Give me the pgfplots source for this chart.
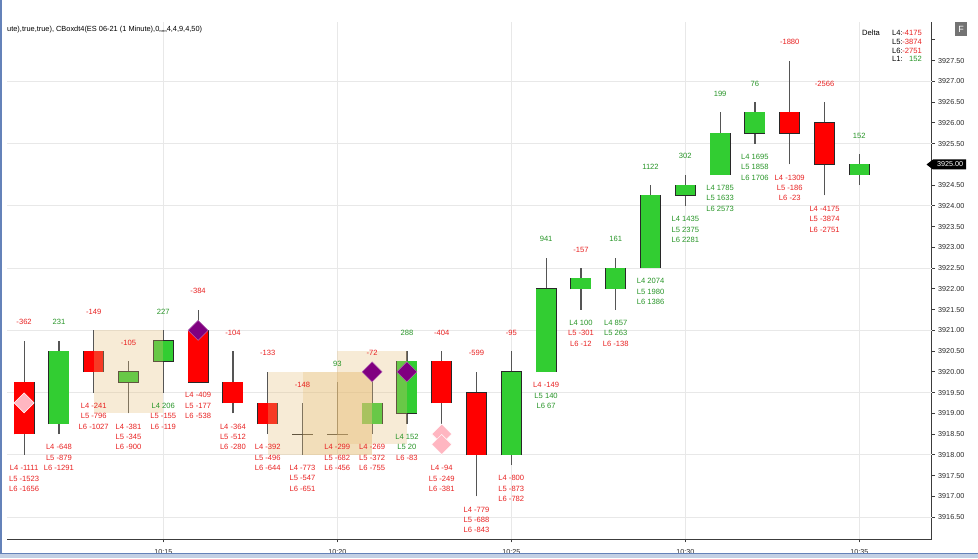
\documentclass[border=0pt]{standalone}
\usepackage{fontspec}
\setmainfont{Liberation Sans}
\usepackage{pgfplots}
\pgfplotsset{compat=1.18}
\usepackage{pgfplotstable}

\definecolor{candleR}{RGB}{255,0,0}
\definecolor{candleG}{RGB}{50,205,50}
\definecolor{outlinec}{RGB}{40,40,40}
\definecolor{wickc}{RGB}{85,85,85}
\definecolor{negred}{RGB}{232,32,32}
\definecolor{posgreen}{RGB}{38,148,38}
\definecolor{gridc}{RGB}{232,232,232}
\definecolor{axisc}{RGB}{60,60,60}
\definecolor{ticktext}{RGB}{40,40,40}
\definecolor{boxc}{RGB}{230,190,120}
\definecolor{pinkd}{RGB}{255,182,193}
\definecolor{purpd}{RGB}{128,0,128}
\definecolor{winblue}{RGB}{100,130,185}
\definecolor{winblue2}{RGB}{195,208,228}

\newcommand\lblfont{\fontsize{7.6}{10.4}\selectfont}
\newcommand\tickfont{\fontsize{7.2}{8}\selectfont}

% time in minutes after 10:00, OHLC, delta
\pgfplotstableread{
x O H L C D
11 3919.75 3920.75 3918.00 3918.50 -362
12 3918.75 3920.75 3918.50 3920.50 231
13 3920.50 3921.00 3919.50 3920.00 -149
14 3919.75 3920.25 3919.00 3920.00 -105
15 3920.25 3921.00 3919.50 3920.75 227
16 3921.00 3921.50 3919.75 3919.75 -384
17 3919.75 3920.50 3919.00 3919.25 -104
18 3919.25 3920.00 3918.50 3918.75 -133
19 3918.50 3919.25 3918.00 3918.50 -148
20 3918.50 3919.75 3918.50 3918.50 93
21 3918.75 3920.00 3918.50 3919.25 -72
22 3919.00 3920.50 3918.75 3920.25 288
23 3920.25 3920.50 3918.75 3919.25 -404
24 3919.50 3920.00 3917.00 3918.00 -599
25 3918.00 3920.50 3917.75 3920.00 -95
26 3920.00 3922.75 3920.00 3922.00 941
27 3922.00 3922.50 3921.50 3922.25 -157
28 3922.00 3922.75 3921.50 3922.50 161
29 3922.50 3924.50 3922.50 3924.25 1122
30 3924.25 3924.75 3924.00 3924.50 302
31 3924.75 3926.25 3924.75 3925.75 199
32 3925.75 3926.50 3925.50 3926.25 76
33 3926.25 3927.50 3925.00 3925.75 -1880
34 3926.00 3926.50 3924.25 3925.00 -2566
35 3924.75 3925.25 3924.50 3925.00 152
}\ohlc

% L4/L5/L6 values under each bar (T = top of the text block)
\pgfplotstableread{
x T L4 L5 L6
11 3918.00 -1111 -1523 -1656
12 3918.50 -648 -879 -1291
13 3919.50 -241 -796 -1027
14 3919.00 -381 -345 -900
15 3919.50 206 -155 -119
16 3919.75 -409 -177 -538
17 3919.00 -364 -512 -280
18 3918.50 -392 -496 -644
19 3918.00 -773 -547 -651
20 3918.50 -299 -682 -456
21 3918.50 -269 -372 -755
22 3918.75 152 20 -83
23 3918.00 -94 -249 -381
24 3917.00 -779 -688 -843
25 3917.75 -800 -873 -782
26 3920.00 -149 140 67
27 3921.50 100 -301 -12
28 3921.50 857 263 -138
29 3922.50 2074 1980 1386
30 3924.00 1435 2375 2281
31 3924.75 1785 1633 2573
32 3925.50 1695 1858 1706
33 3925.00 -1309 -186 -23
34 3924.25 -4175 -3874 -2751
}\ltab

\pgfplotsset{
  txt/.style={only marks, mark=none, point meta=explicit symbolic},
  txtnode/.style={every node near coord/.append style={font=\lblfont, anchor=center, inner sep=0pt, #1}},
  ebar/.style={draw=none, mark=none,
    error bars/.cd, y dir=plus, y explicit, error mark=none,
    error bar style={#1}},
}

\begin{document}
\begin{tikzpicture}
\useasboundingbox (0,0) rectangle (978pt,558pt);
\begin{axis}[
  at={(7pt,19pt)}, anchor=south west,
  scale only axis, width=924.7pt, height=517pt,
  xmin=10.5086, xmax=37.080, ymin=3915.971, ymax=3928.429,
  axis x line*=bottom, axis y line*=right,
  every outer x axis line/.append style={-},
  every outer y axis line/.append style={-},
  axis line style={draw=axisc, line width=0.9pt},
  tick align=outside, major tick length=3.5pt,
  tick style={draw=axisc, line width=0.8pt},
  xtick={15,20,25,30,35},
  xticklabels={10:15,10:20,10:25,10:30,10:35},
  xmajorgrids,
  major grid style={draw=gridc, line width=0.8pt},
  ytick={3916.5,3917,3917.5,3918,3918.5,3919,3919.5,3920,3920.5,3921,3921.5,3922,3922.5,3923,3923.5,3924,3924.5,3925,3925.5,3926,3926.5,3927,3927.5,3928},
  yticklabels={3916.50,3917.00,3917.50,3918.00,3918.50,3919.00,3919.50,3920.00,3920.50,3921.00,3921.50,3922.00,3922.50,3923.00,3923.50,3924.00,3924.50,3925.00,3925.50,3926.00,3926.50,3927.00,3927.50,},
  extra y ticks={3916.5,3918,3919.5,3921,3922.5,3924,3925.5,3927},
  extra y tick labels={},
  extra y tick style={grid=major, major tick length=0pt},
  xticklabel style={font=\tickfont, text=ticktext, yshift=-3pt},
  yticklabel style={font=\tickfont, text=ticktext, xshift=-0.5pt},
]
% wicks
\addplot[ebar={draw=wickc, line width=1.2pt}]
  table[x=x, y=L, y error expr=\thisrow{H}-\thisrow{L}]{\ohlc};
% body outlines
\addplot[ebar={draw=outlinec, line width=21pt}]
  table[x=x, y expr={min(\thisrow{O},\thisrow{C})-0.0096},
        y error expr={abs(\thisrow{C}-\thisrow{O})+0.0193}]{\ohlc};
% red bodies
\addplot[x filter/.expression={\thisrow{C}<\thisrow{O} ? x : nan},
  ebar={draw=candleR, line width=19.4pt}]
  table[x=x, y=C, y error expr=\thisrow{O}-\thisrow{C}]{\ohlc};
% green bodies
\addplot[x filter/.expression={\thisrow{C}>\thisrow{O} ? x : nan},
  ebar={draw=candleG, line width=19.4pt}]
  table[x=x, y=O, y error expr=\thisrow{C}-\thisrow{O}]{\ohlc};
% diamonds
\addplot[only marks, mark=square*, mark size=7.07pt,
  mark options={rotate=45, fill=pinkd, draw=white, line width=0.5pt}]
  coordinates {(11,3919.25) (23,3918.5) (23,3918.25)};
\addplot[only marks, mark=square*, mark size=7.07pt,
  mark options={rotate=45, fill=purpd, draw=purpd!60!white, line width=0.5pt}]
  coordinates {(16,3921) (21,3920) (22,3920)};
% delta above
\addplot[txt, x filter/.expression={\thisrow{D}<0 ? x : nan},
  nodes near coords, txtnode={text=negred, yshift=18.5pt}]
  table[x=x, y=H, meta=D]{\ohlc};
\addplot[txt, x filter/.expression={\thisrow{D}<0 ? nan : x},
  nodes near coords, txtnode={text=posgreen, yshift=18.5pt}]
  table[x=x, y=H, meta=D]{\ohlc};
% L4 L5 L6 below
\addplot[txt, x filter/.expression={\thisrow{L4}<0 ? x : nan},
  nodes near coords={L4 \pgfplotspointmeta}, txtnode={text=negred, yshift=-13.2pt}]
  table[x=x, y=T, meta=L4]{\ltab};
\addplot[txt, x filter/.expression={\thisrow{L4}<0 ? nan : x},
  nodes near coords={L4 \pgfplotspointmeta}, txtnode={text=posgreen, yshift=-13.2pt}]
  table[x=x, y=T, meta=L4]{\ltab};
\addplot[txt, x filter/.expression={\thisrow{L5}<0 ? x : nan},
  nodes near coords={L5 \pgfplotspointmeta}, txtnode={text=negred, yshift=-23.6pt}]
  table[x=x, y=T, meta=L5]{\ltab};
\addplot[txt, x filter/.expression={\thisrow{L5}<0 ? nan : x},
  nodes near coords={L5 \pgfplotspointmeta}, txtnode={text=posgreen, yshift=-23.6pt}]
  table[x=x, y=T, meta=L5]{\ltab};
\addplot[txt, x filter/.expression={\thisrow{L6}<0 ? x : nan},
  nodes near coords={L6 \pgfplotspointmeta}, txtnode={text=negred, yshift=-34pt}]
  table[x=x, y=T, meta=L6]{\ltab};
\addplot[txt, x filter/.expression={\thisrow{L6}<0 ? nan : x},
  nodes near coords={L6 \pgfplotspointmeta}, txtnode={text=posgreen, yshift=-34pt}]
  table[x=x, y=T, meta=L6]{\ltab};
% shaded boxes
\addplot[draw=none, fill=boxc, fill opacity=0.3] coordinates {(13,3919) (15,3919) (15,3921) (13,3921)};
\addplot[draw=none, fill=boxc, fill opacity=0.3] coordinates {(18,3918) (21,3918) (21,3920) (18,3920)};
\addplot[draw=none, fill=boxc, fill opacity=0.3] coordinates {(19,3918) (21,3918) (21,3920) (19,3920)};
\addplot[draw=none, fill=boxc, fill opacity=0.3] coordinates {(20,3918.25) (22,3918.25) (22,3920.5) (20,3920.5)};
\end{axis}
% window decorations
\fill[winblue] (0,5pt) rectangle (2pt,558pt);
\fill[winblue2] (0,0) rectangle (978pt,5pt);
\draw[winblue, line width=0.8pt] (0,5pt) -- (978pt,5pt);
% title
\node[anchor=west, inner sep=0pt, font=\fontsize{7.4}{8}\selectfont] at (7pt,528pt)
  {ute),true,true), CBoxdt4(ES 06-21 (1 Minute),0,,,,,,4,4,9,4,50)};
% delta legend
\begin{scope}[every node/.style={inner sep=0pt, font=\lblfont}]
\node[anchor=west] at (862pt,525pt) {Delta};
\node[anchor=west] at (892pt,525pt) {L4:};
\node[anchor=east, text=negred] at (922pt,525pt) {-4175};
\node[anchor=west] at (892pt,516pt) {L5:};
\node[anchor=east, text=negred] at (922pt,516pt) {-3874};
\node[anchor=west] at (892pt,507pt) {L6:};
\node[anchor=east, text=negred] at (922pt,507pt) {-2751};
\node[anchor=west] at (892pt,499pt) {L1:};
\node[anchor=east, text=posgreen] at (922pt,499pt) {152};
\end{scope}
% F button
\fill[black!55] (955pt,522pt) rectangle (967pt,536pt);
\node[text=white, inner sep=0pt, font=\fontsize{9}{10}\selectfont] at (961pt,529pt) {F};
% last price marker
\fill[black] (926.5pt,393.5pt) -- (933pt,398.5pt) -- (966pt,398.5pt) -- (966pt,388.5pt) -- (933pt,388.5pt) -- cycle;
\node[anchor=west, text=white, inner sep=0pt, font=\tickfont] at (937pt,393.5pt) {3925.00};
\end{tikzpicture}
\end{document}
